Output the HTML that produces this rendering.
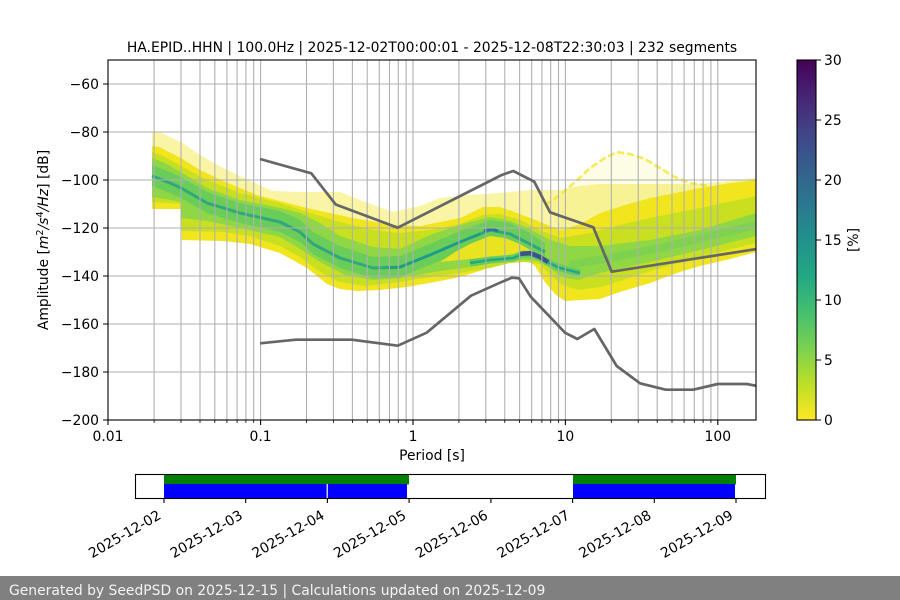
<!DOCTYPE html>
<html><head><meta charset="utf-8">
<style>html,body{margin:0;padding:0;background:#fff;}svg{display:block;}</style></head>
<body>
<svg width="900" height="600" viewBox="0 0 900 600" xmlns="http://www.w3.org/2000/svg" font-family="'DejaVu Sans', 'Liberation Sans', sans-serif" font-size="13.9">
<defs>
<clipPath id="ax"><rect x="108" y="60" width="648" height="360"/></clipPath>
<linearGradient id="vir" x1="0" y1="1" x2="0" y2="0">
<stop offset="0" stop-color="#fde725"/><stop offset="0.1" stop-color="#bddf26"/><stop offset="0.2" stop-color="#7ad151"/><stop offset="0.3" stop-color="#44bf70"/><stop offset="0.4" stop-color="#22a884"/><stop offset="0.5" stop-color="#21918c"/><stop offset="0.6" stop-color="#2a788e"/><stop offset="0.7" stop-color="#355f8d"/><stop offset="0.8" stop-color="#414487"/><stop offset="0.9" stop-color="#482475"/><stop offset="1" stop-color="#440154"/>
</linearGradient>
</defs>
<rect width="900" height="600" fill="#fff"/>

<!-- heatmap -->
<g clip-path="url(#ax)">
<polygon fill="#f1e51d" opacity="0.4" points="152,131 160,132 170,137 181,142 200,155 223,168 250,181 273,191 300,192 340,192 365,202 393,212 420,206 440,198 470,195 500,193 530,190 560,190 580,186 600,184 650,184 700,184 756,178 756,180 730,183 700,188 675,193 650,198 625,205 600,213 580,224 560,230 533,219 512,211 500,207 483,207 460,218 440,222 420,226 393,225 353,218 307,208 257,195 223,181 200,170 181,158 165,150 160,147 152,146"/>
<polygon fill="#f1e51d" opacity="0.12" points="545,205 560,195 575,182 590,168 605,158 617,152 630,154 645,159 660,168 675,177 690,183 710,186 700,188 650,198 600,213 560,230"/>
<polyline fill="none" stroke="#f1e51d" stroke-width="2.5" stroke-dasharray="7,3" opacity="0.75" points="545,205 560,195 575,182 590,168 605,158 617,152 630,154 645,159 660,168 675,177 690,183 710,186"/>
<polygon fill="#f1e51d" points="152,146 160,147 165,150 181,158 200,170 223,181 257,195 307,208 353,218 393,225 420,226 440,222 460,218 483,207 500,207 512,211 533,219 560,230 580,224 600,213 625,205 650,198 675,193 700,188 730,183 756,180 756,252 730,259 700,266 680,272 650,283 620,292 600,299 565,301 555,294 545,282 535,266 525,258 515,258 500,262 483,270 460,277 440,281 407,287 380,290 357,291 340,289 327,284 307,268 280,253 250,244 223,241 182,240 181,209 152,209"/>
<polygon fill="#c8e020" points="152,152 165,157 181,166 207,180 240,193 280,203 307,212 340,222 373,230 400,233 430,230 460,224 483,215 500,214 520,220 540,230 560,238 590,233 620,225 650,218 700,208 756,196 756,243 700,257 650,271 620,281 600,287 578,290 562,285 550,275 540,264 525,262 510,263 490,268 460,273 430,277 400,282 365,286 340,282 320,272 300,257 280,246 250,236 223,232 182,231 181,204 165,203 152,202"/>
<polygon fill="#8fd744" points="152,158 165,163 181,172 207,188 240,200 280,208 300,213 320,223 340,236 373,247 400,249 430,235 460,225 490,217 510,221 530,229 550,240 570,246 600,246 650,240 700,230 756,213 756,236 700,250 650,262 600,273 578,280 562,277 550,268 540,261 520,260 500,262 470,267 440,271 400,278 373,280 345,275 320,262 300,249 280,237 240,228 207,221 181,218 181,202 165,199 152,197"/>
<polyline fill="none" stroke="#6ecd5a" stroke-width="8" opacity="0.5" points="570,265 610,258 660,248 710,236 756,225"/>
<polygon fill="#5ec962" opacity="0.75" points="152,165 170,172 181,177 207,192 240,203 280,211 300,220 313,232 340,246 373,257 400,256 430,244 460,231 490,220 510,223 530,233 545,243 545,262 530,254 510,244 490,240 460,252 430,265 400,277 373,278 340,268 313,254 300,242 280,232 240,223 207,213 181,198 170,193 152,186"/>
<polygon fill="#e9e41f" points="440,262 455,252 470,244 490,236 505,238 520,244 532,251 520,254 505,256 490,257 470,259"/>
<polyline fill="none" stroke="#5ec962" stroke-width="7" opacity="0.85" points="470,263 490,260 513,258 523,254 535,255 547,262 560,268 580,273"/>
<polyline fill="none" stroke="#22a884" stroke-width="2.5" points="470,263 490,260 513,258 523,254 535,255 547,262 560,268 580,273"/>
<polyline fill="none" stroke="#2aa37f" stroke-width="3" opacity="0.9" stroke-linejoin="round" points="152,176 170,183 181,188 207,203 240,213 280,222 300,232 313,244 340,258 373,268 400,267 430,255 460,242 490,230 510,234 530,244 545,252"/>
<polyline fill="none" stroke="#1f9a8a" stroke-width="2.5" points="390,268 400,267 430,255 460,242 480,234"/>
<polyline fill="none" stroke="#2a788e" stroke-width="3" points="484,231 492,229 498,231"/>
<polyline fill="none" stroke="#3b528b" stroke-width="4.5" points="520,254 530,253 540,257 548,262"/>
</g>

<!-- grid -->
<g stroke="#b0b0b0" stroke-width="1.1" fill="none">
<path d="M108,84H756M108,132H756M108,180H756M108,228H756M108,276H756M108,324H756M108,372H756"/>
<path d="M154.1,60V420M181,60V420M200,60V420M214.8,60V420M226.9,60V420M237.1,60V420M245.9,60V420M253.7,60V420M260.6,60V420M306.5,60V420M333.4,60V420M352.4,60V420M367.2,60V420M379.3,60V420M389.5,60V420M398.3,60V420M406.1,60V420M413,60V420M458.9,60V420M485.8,60V420M504.8,60V420M519.6,60V420M531.7,60V420M541.9,60V420M550.7,60V420M558.5,60V420M565.4,60V420M611.3,60V420M638.2,60V420M657.2,60V420M672,60V420M684.1,60V420M694.3,60V420M703.1,60V420M710.9,60V420M717.8,60V420"/>
</g>

<!-- noise models -->
<g fill="none" stroke="#666" stroke-width="2.7" stroke-linejoin="round" clip-path="url(#ax)">
<polyline points="260,159 311.3,173.3 335.7,204.5 397.7,227.7 501.7,175 513.3,171 534.3,181.7 550,212.3 593.3,227.3 611.7,271.7 757,249"/>
<polyline points="260,343.3 295.7,339.7 351.7,339.7 397.7,345.7 426.7,332.7 471,295.7 500,282.7 511.7,277.7 519,278.3 530.7,296.7 565,332.7 577.3,339 594.3,329 616.7,366 640,383.3 665.7,389.7 693.3,389.7 717.7,384 746.7,384 757,386"/>
</g>

<!-- axes frame & ticks -->
<rect x="108" y="60" width="648" height="360" fill="none" stroke="#000" stroke-width="1.1"/>
<g stroke="#000" stroke-width="1.1">
<path d="M103,84H108M103,132H108M103,180H108M103,228H108M103,276H108M103,324H108M103,372H108M103,420H108"/>
<path d="M108,420V425M260.6,420V425M413,420V425M565.4,420V425M717.8,420V425"/>
<path stroke-width="0.8" d="M154.1,420V423M181,420V423M200,420V423M214.8,420V423M226.9,420V423M237.1,420V423M245.9,420V423M253.7,420V423M306.5,420V423M333.4,420V423M352.4,420V423M367.2,420V423M379.3,420V423M389.5,420V423M398.3,420V423M406.1,420V423M458.9,420V423M485.8,420V423M504.8,420V423M519.6,420V423M531.7,420V423M541.9,420V423M550.7,420V423M558.5,420V423M611.3,420V423M638.2,420V423M657.2,420V423M672,420V423M684.1,420V423M694.3,420V423M703.1,420V423M710.9,420V423"/>
</g>
<g fill="#000" text-anchor="end">
<text x="99" y="89">−60</text>
<text x="99" y="137">−80</text>
<text x="99" y="185">−100</text>
<text x="99" y="233">−120</text>
<text x="99" y="281">−140</text>
<text x="99" y="329">−160</text>
<text x="99" y="377">−180</text>
<text x="99" y="425">−200</text>
</g>
<g fill="#000" text-anchor="middle">
<text x="108" y="441">0.01</text>
<text x="260.6" y="441">0.1</text>
<text x="413" y="441">1</text>
<text x="565.4" y="441">10</text>
<text x="717.8" y="441">100</text>
<text x="432" y="460">Period [s]</text>
<text x="432" y="52">HA.EPID..HHN | 100.0Hz | 2025-12-02T00:00:01 - 2025-12-08T22:30:03 | 232 segments</text>
</g>
<text transform="translate(48,240) rotate(-90)" text-anchor="middle" fill="#000">Amplitude [<tspan font-style="italic">m</tspan><tspan font-size="9.7" dy="-5">2</tspan><tspan dy="5" font-style="italic">/s</tspan><tspan font-size="9.7" dy="-5">4</tspan><tspan dy="5" font-style="italic">/Hz</tspan>] [dB]</text>

<!-- colorbar -->
<rect x="797" y="60" width="19" height="360" fill="url(#vir)" stroke="#000" stroke-width="1.1"/>
<g stroke="#000" stroke-width="1.1">
<path d="M816,60H821M816,120H821M816,180H821M816,240H821M816,300H821M816,360H821M816,420H821"/>
</g>
<g fill="#000">
<text x="824" y="65">30</text>
<text x="824" y="125">25</text>
<text x="824" y="185">20</text>
<text x="824" y="245">15</text>
<text x="824" y="305">10</text>
<text x="824" y="365">5</text>
<text x="824" y="425">0</text>
</g>
<text transform="translate(858,240) rotate(-90)" text-anchor="middle" fill="#000">[%]</text>

<!-- timeline -->
<rect x="164" y="474.5" width="245" height="10" fill="#008000"/>
<rect x="573" y="474.5" width="163" height="10" fill="#008000"/>
<rect x="164" y="484" width="243" height="14.5" fill="#0000ff"/>
<rect x="573" y="484" width="162" height="14.5" fill="#0000ff"/>
<rect x="326.6" y="484" width="1.2" height="14.5" fill="#fff"/>
<rect x="135.5" y="474.5" width="630" height="24" fill="none" stroke="#000" stroke-width="1.1"/>
<g stroke="#000" stroke-width="1.1">
<path d="M164,498V503M245.7,498V503M327.4,498V503M409.1,498V503M490.9,498V503M572.6,498V503M654.3,498V503M736,498V503"/>
</g>
<g fill="#000" text-anchor="end">
<text transform="translate(162,518) rotate(-30)">2025-12-02</text>
<text transform="translate(243.7,518) rotate(-30)">2025-12-03</text>
<text transform="translate(325.4,518) rotate(-30)">2025-12-04</text>
<text transform="translate(407.1,518) rotate(-30)">2025-12-05</text>
<text transform="translate(488.9,518) rotate(-30)">2025-12-06</text>
<text transform="translate(570.6,518) rotate(-30)">2025-12-07</text>
<text transform="translate(652.3,518) rotate(-30)">2025-12-08</text>
<text transform="translate(734,518) rotate(-30)">2025-12-09</text>
</g>

<!-- footer -->
<rect x="0" y="576" width="900" height="24" fill="#808080"/>
<text x="9" y="595" fill="#f4f4f4">Generated by SeedPSD on 2025-12-15 | Calculations updated on 2025-12-09</text>
</svg>
</body></html>
